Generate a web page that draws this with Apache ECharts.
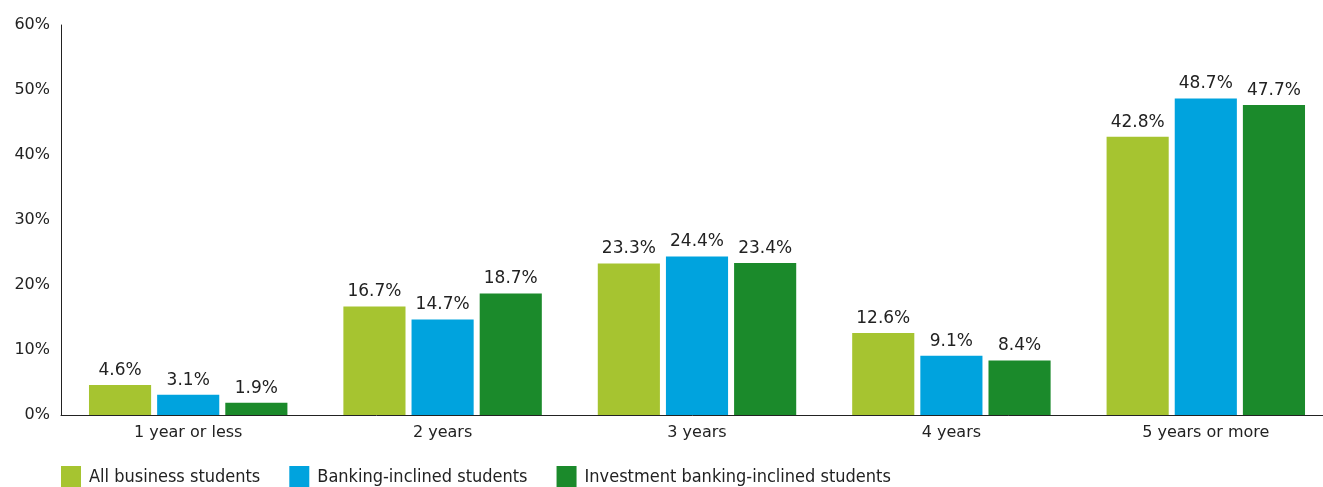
<!DOCTYPE html>
<html><head><meta charset="utf-8">
<script src="https://cdn.jsdelivr.net/npm/echarts@6/dist/echarts.min.js"></script>
<style>html,body{margin:0;padding:0;background:#fff;}#c{width:1323px;height:487px;}</style>
</head><body><div id="c"></div>
<script>
const categories = ['1 year or less', '2 years', '3 years', '4 years', '5 years or more'];
const allBusiness = [4.6, 16.7, 23.3, 12.6, 42.8];
const bankingInclined = [3.1, 14.7, 24.4, 9.1, 48.7];
const ibInclined = [1.9, 18.7, 23.4, 8.4, 47.7];
const seriesNames = ['All business students', 'Banking-inclined students', 'Investment banking-inclined students'];
const colors = ['#A6C430', '#00A3DE', '#1B8A2B'];

const chart = echarts.init(document.getElementById('c'));
const font = 'DejaVu Sans';
const mk = (name, data, color) => ({
  name, type: 'bar', data,
  itemStyle: { color },
  barGap: '9.7%', barCategoryGap: '22%',
  label: { show: true, position: 'top', distance: 6, formatter: '{c}%', fontFamily: font, fontSize: 17, color: '#222' }
});
chart.setOption({
  animation: false,
  color: colors,
  grid: { left: 61, top: 25, height: 390, width: 1272, containLabel: false, outerBoundsMode: 'none' },
  legend: {
    left: 61, top: 466, padding: 0, itemWidth: 20, itemHeight: 22, itemGap: 29, icon: 'rect',
    textStyle: { fontFamily: 'DejaVu Sans Condensed', fontSize: 18, color: '#222', padding: [0, 0, 0, 3] },
    data: seriesNames
  },
  xAxis: {
    type: 'category', data: categories,
    axisLine: { lineStyle: { color: '#222', width: 1 } },
    axisTick: { show: false },
    axisLabel: { fontFamily: font, fontSize: 16, color: '#222', margin: 10 }
  },
  yAxis: {
    type: 'value', min: 0, max: 60, interval: 10,
    axisLine: { show: true, lineStyle: { color: '#222', width: 1 } },
    axisTick: { show: false },
    splitLine: { show: false },
    axisLabel: { fontFamily: font, fontSize: 16, color: '#222', margin: 11, formatter: '{value}%', padding: [0, 0, 14, 0] }
  },
  series: [
    mk(seriesNames[0], allBusiness, colors[0]),
    mk(seriesNames[1], bankingInclined, colors[1]),
    mk(seriesNames[2], ibInclined, colors[2])
  ]
});
</script></body></html>
